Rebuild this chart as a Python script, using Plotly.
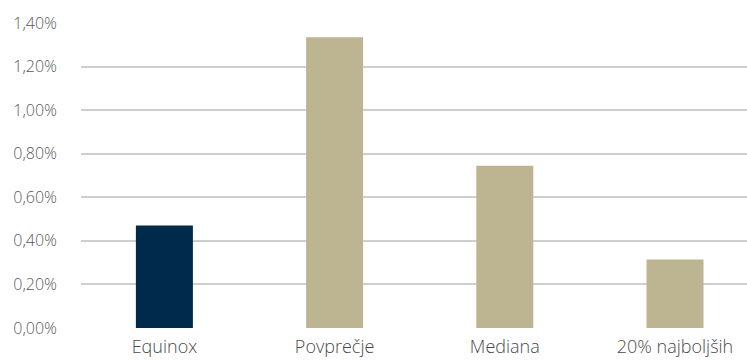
import plotly.graph_objects as go

categories = ["Equinox", "Povprečje", "Mediana", "20% najboljših"]
values = [0.0047, 0.01335, 0.00745, 0.00315]
colors = ["#002a4b", "#bdb591", "#bdb591", "#bdb591"]
y_ticks = [0, 0.002, 0.004, 0.006, 0.008, 0.010, 0.012, 0.014]

fig = go.Figure(go.Bar(x=categories, y=values, marker=dict(color=colors, line=dict(width=0)), width=0.335))

fig.update_layout(
    width=747, height=360,
    margin=dict(l=81, r=0, t=23, b=32),
    plot_bgcolor="white", paper_bgcolor="white",
    separators=",.",
    showlegend=False,
    font=dict(family="Open Sans", size=15, color="#5a5a5a", weight=300),
)
fig.update_xaxes(range=[-0.49, 3.423], showgrid=False, showline=False, zeroline=False,
                 ticks="", tickfont=dict(size=18, color="#4a4a4a", weight=300), ticklabelstandoff=6)
fig.update_yaxes(range=[0, 0.014], tickvals=y_ticks, tickformat=".2%", showgrid=True,
                 gridcolor="#cfcfcf", gridwidth=1.5, zeroline=False, showline=False,
                 ticks="", ticklabelstandoff=23, tickfont=dict(size=16, color="#5a5a5a", weight=300))
fig.write_html("out.html")
